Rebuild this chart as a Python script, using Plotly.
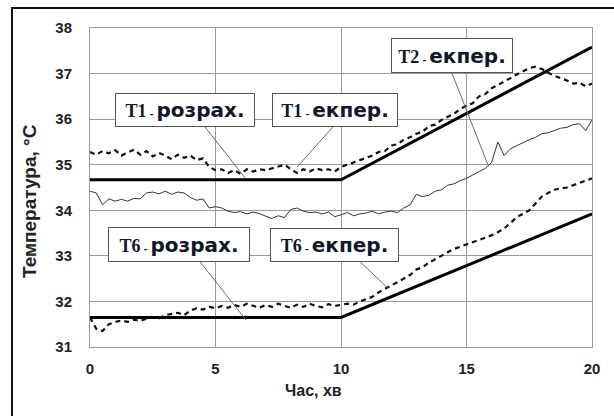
import plotly.graph_objects as go

# ---------------- data ----------------
time_exp = [i * 0.25 for i in range(81)]

t1_exp = [35.28, 35.22, 35.30, 35.25, 35.32, 35.20, 35.27, 35.33, 35.22, 35.30,
          35.18, 35.26, 35.20, 35.12, 35.22, 35.15, 35.20, 35.10, 35.14, 34.95,
          34.88, 34.90, 34.82, 34.88, 34.80, 34.90, 34.85, 34.90, 34.88, 34.92,
          34.95, 35.00, 34.90, 34.82, 34.90, 34.85, 34.92, 34.88, 34.90, 34.85,
          34.95, 35.00, 35.05, 35.10, 35.15, 35.20, 35.28, 35.30, 35.42, 35.45,
          35.55, 35.60, 35.68, 35.72, 35.85, 35.88, 35.98, 36.05, 36.12, 36.22,
          36.30, 36.35, 36.50, 36.55, 36.68, 36.75, 36.82, 36.90, 36.98, 37.05,
          37.12, 37.15, 37.10, 37.02, 36.95, 36.90, 36.85, 36.78, 36.80, 36.72,
          36.78]

t2_exp = [34.42, 34.38, 34.12, 34.25, 34.20, 34.24, 34.20, 34.26, 34.25, 34.38,
          34.40, 34.36, 34.42, 34.35, 34.40, 34.38, 34.28, 34.22, 34.25, 34.05,
          34.08, 34.05, 33.98, 33.95, 33.97, 33.92, 33.96, 33.93, 33.87, 33.82,
          33.88, 33.84, 34.02, 34.05, 33.98, 33.95, 33.96, 33.92, 33.96, 33.86,
          33.90, 33.95, 33.88, 33.92, 33.94, 33.98, 33.92, 33.96, 33.98, 33.95,
          34.05, 34.12, 34.35, 34.30, 34.33, 34.42, 34.45, 34.55, 34.58, 34.65,
          34.70, 34.78, 34.85, 34.92, 35.05, 35.50, 35.20, 35.35, 35.42, 35.48,
          35.55, 35.60, 35.68, 35.70, 35.75, 35.80, 35.82, 35.88, 35.90, 35.75,
          35.98]

t6_exp = [31.65, 31.40, 31.35, 31.50, 31.55, 31.58, 31.55, 31.60, 31.57, 31.62,
          31.65, 31.63, 31.70, 31.72, 31.75, 31.70, 31.80, 31.85, 31.82, 31.88,
          31.85, 31.90, 31.86, 31.92, 31.88, 31.95, 31.90, 31.86, 31.92, 31.88,
          31.95, 31.90, 31.86, 31.93, 31.88, 31.95, 31.90, 31.87, 31.94, 31.90,
          31.92, 31.95, 31.93, 32.00, 32.05, 32.10, 32.20, 32.28, 32.35, 32.42,
          32.50, 32.58, 32.70, 32.75, 32.85, 32.92, 33.00, 33.08, 33.15, 33.20,
          33.25, 33.30, 33.35, 33.40, 33.45, 33.52, 33.60, 33.72, 33.85, 33.92,
          34.00, 34.15, 34.30, 34.38, 34.45, 34.48, 34.50, 34.55, 34.60, 34.66,
          34.70]

time_calc = [0, 10, 20]
t1_calc = [34.67, 34.67, 37.58]
t6_calc = [31.65, 31.65, 33.92]

x_ticks = [0, 5, 10, 15, 20]
y_ticks = [31, 32, 33, 34, 35, 36, 37, 38]

# ---------------- figure ----------------
fig = go.Figure()

fig.add_trace(go.Scatter(x=time_exp, y=t2_exp, mode="lines",
                         line=dict(color="#333333", width=1), hoverinfo="skip"))
fig.add_trace(go.Scatter(x=time_exp, y=t1_exp, mode="lines",
                         line=dict(color="#111111", width=2.2, dash="5px,4px"), hoverinfo="skip"))
fig.add_trace(go.Scatter(x=time_exp, y=t6_exp, mode="lines",
                         line=dict(color="#111111", width=2.2, dash="5px,4px"), hoverinfo="skip"))
fig.add_trace(go.Scatter(x=time_calc, y=t1_calc, mode="lines",
                         line=dict(color="#000000", width=3), hoverinfo="skip"))
fig.add_trace(go.Scatter(x=time_calc, y=t6_calc, mode="lines",
                         line=dict(color="#000000", width=3), hoverinfo="skip"))

tick_font = dict(family="Liberation Sans, Arial", size=15, color="#222222", weight="bold")

fig.update_xaxes(range=[0, 20], tickvals=x_ticks, ticks="", showgrid=True,
                 gridcolor="#9a9a9a", gridwidth=1, showline=True, linecolor="#9a9a9a",
                 linewidth=1, mirror=True, zeroline=False, tickfont=tick_font,
                 ticklabelstandoff=8)
fig.update_yaxes(range=[31, 38], tickvals=y_ticks, ticks="", showgrid=True,
                 gridcolor="#9a9a9a", gridwidth=1, showline=True, linecolor="#9a9a9a",
                 linewidth=1, mirror=True, zeroline=False, tickfont=tick_font,
                 ticklabelstandoff=14)

# leader lines (annotation pointers)
leaders = [
    (4.58, 35.83, 6.18, 34.71),
    (9.68, 35.83, 8.25, 34.95),
    (14.42, 37.01, 15.86, 34.99),
    (4.38, 32.87, 6.22, 31.59),
    (10.76, 32.87, 11.87, 32.29),
]
for x0, y0, x1, y1 in leaders:
    fig.add_shape(type="line", x0=x0, y0=y0, x1=x1, y1=y1, xref="x", yref="y",
                  line=dict(color="#6a6a6a", width=1), layer="above")

def label(name, rest):
    return ("<span style='font-family:Liberation Serif;font-size:18px'>" + name +
            "</span><span style='font-size:9px'> - </span>" + rest)

boxes = [
    ("T1", "розрах.", 3.78, 36.20, 134, 28),
    ("T1", "екпер.", 9.76, 36.20, 120, 28),
    ("T2", "екпер.", 14.42, 37.40, 116, 29),
    ("T6", "розрах.", 3.55, 33.25, 136, 29),
    ("T6", "екпер.", 9.74, 33.24, 123, 28),
]
for name, rest, bx, by, w, h in boxes:
    fig.add_annotation(x=bx, y=by, xref="x", yref="y", text=label(name, rest),
                       showarrow=False, bgcolor="white", bordercolor="#555555",
                       borderwidth=1, borderpad=2, width=w, height=h,
                       align="center", valign="middle",
                       font=dict(family="DejaVu Sans", size=20, color="#101828",
                                 weight="bold"))

# axis titles
fig.add_annotation(x=-0.1195, y=0.4577, xref="paper", yref="paper",
                   text="Температура, °C", textangle=-90, showarrow=False,
                   xanchor="center", yanchor="middle",
                   font=dict(family="Liberation Sans, Arial", size=19, color="#222222",
                             weight="bold"))
fig.add_annotation(x=0.446, y=-0.135, xref="paper", yref="paper",
                   text="Час, хв", showarrow=False, xanchor="center", yanchor="middle",
                   font=dict(family="Liberation Sans, Arial", size=16, color="#222222",
                             weight="bold"))

# outer frame (extends past the picture on right and bottom)
fig.add_shape(type="line", xref="paper", yref="paper", x0=-0.1554, x1=-0.1554,
              y0=1.0627, y1=-0.25, line=dict(color="#111111", width=2))
fig.add_shape(type="line", xref="paper", yref="paper", x0=-0.1574, x1=1.06,
              y0=1.0627, y1=1.0627, line=dict(color="#111111", width=2))

fig.update_layout(width=614, height=416, showlegend=False,
                  margin=dict(l=90, r=22, t=28, b=69),
                  plot_bgcolor="white", paper_bgcolor="white")

fig.write_html("out.html")
